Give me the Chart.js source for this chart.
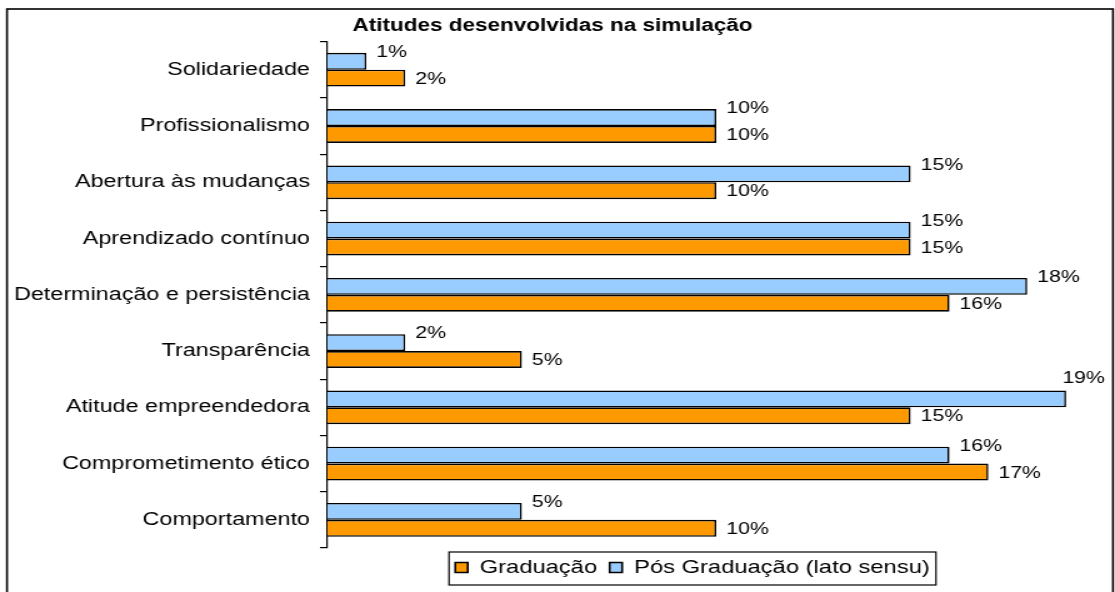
<!DOCTYPE html>
<html>
<head>
<meta charset="utf-8">
<script src="https://cdn.jsdelivr.net/npm/chart.js@4"></script>
<style>
    body { margin: 0; background: #fff; overflow: hidden; }
    /* the reference picture is stretched sideways, so the chart is too */
    #wrap { width: 892px; height: 592px; transform: scaleX(1.25); transform-origin: 0 0; }
</style>
</head>
<body>
<div id="wrap"><canvas id="chart" width="892" height="592"></canvas></div>
<script>
const titulo = 'Atitudes desenvolvidas na simulação'
const categorias = [
    'Solidariedade',
    'Profissionalismo',
    'Abertura às mudanças',
    'Aprendizado contínuo',
    'Determinação e persistência',
    'Transparência',
    'Atitude empreendedora',
    'Comprometimento ético',
    'Comportamento'
]
const posGraduacao = [1, 10, 15, 15, 18, 2, 19, 16, 5]
const graduacao = [2, 10, 10, 15, 16, 5, 15, 17, 10]

const fonte = '"Liberation Sans", Arial, sans-serif'

const moldura = {
    id: 'moldura',
    beforeDraw(chart) {
        const ctx = chart.ctx
        ctx.save()
        ctx.fillStyle = '#fff'
        ctx.fillRect(0, 0, chart.width, chart.height)
        ctx.strokeStyle = '#000'
        ctx.lineWidth = 1.6
        ctx.strokeRect(5.6, 9, 884.8, 600)
        ctx.restore()
    }
}

// move the legend a bit to the right and put a box round it
const legendaBox = {
    id: 'legendaBox',
    afterLayout(chart) {
        const lg = chart.legend
        const d = 554 - (lg.left + lg.right) / 2
        lg.left += d
        lg.right += d
    },
    afterDraw(chart) {
        const boxes = chart.legend.legendHitBoxes
        if (!boxes || !boxes.length) return
        const ctx = chart.ctx
        const l = Math.min(...boxes.map(b => b.left)) - 5
        const r = Math.max(...boxes.map(b => b.left + b.width)) + 5
        const t = boxes[0].top - 6
        const h = boxes[0].height + 14
        ctx.save()
        ctx.strokeStyle = '#000'
        ctx.lineWidth = 1.2
        ctx.strokeRect(l, t, r - l, h)
        ctx.restore()
    }
}

const rotulos = {
    id: 'rotulos',
    afterDatasetsDraw(chart) {
        const ctx = chart.ctx
        ctx.save()
        ctx.font = '17px ' + fonte
        ctx.fillStyle = '#000'
        ctx.textBaseline = 'middle'
        ctx.textAlign = 'left'
        chart.data.datasets.forEach((ds, i) => {
            chart.getDatasetMeta(i).data.forEach((bar, j) => {
                const txt = ds.data[j] + '%'
                const w = ctx.measureText(txt).width
                let x = bar.x + 8
                let y = bar.y + (i === 0 ? -9 : 1)
                if (x + w > chart.chartArea.right) {
                    x = bar.x - 3
                    y = bar.y - 21
                }
                ctx.fillText(txt, x, y)
            })
        })
        ctx.restore()
    }
}

new Chart(document.getElementById('chart'), {
    type: 'bar',
    data: {
        labels: categorias,
        datasets: [
            {
                label: 'Pós Graduação (lato sensu)',
                data: posGraduacao,
                backgroundColor: '#99CCFF',
                borderColor: '#000',
                borderWidth: 1.6
            },
            {
                label: 'Graduação',
                data: graduacao,
                backgroundColor: '#FF9900',
                borderColor: '#000',
                borderWidth: 1.6
            }
        ]
    },
    options: {
        indexAxis: 'y',
        responsive: false,
        animation: false,
        categoryPercentage: 0.6,
        barPercentage: 1.0,
        layout: { padding: { left: 0, right: 8, top: 0, bottom: 5 } },
        scales: {
            x: { display: false, min: 0, max: 20 },
            y: {
                afterFit: s => { s.width = 262 },
                grid: { drawOnChartArea: false, tickLength: 6, color: '#000', lineWidth: 1.2 },
                border: { color: '#000', width: 1.2 },
                ticks: { color: '#000', padding: 8, font: { family: fonte, size: 18.7 } }
            }
        },
        plugins: {
            title: {
                display: true,
                text: titulo,
                color: '#000',
                font: { family: fonte, size: 18, weight: 'bold' },
                padding: { top: 15, bottom: 5 }
            },
            legend: {
                position: 'bottom',
                reverse: true,
                labels: {
                    color: '#000',
                    boxWidth: 10,
                    boxHeight: 10,
                    padding: 10,
                    font: { family: fonte, size: 19 }
                }
            },
            tooltip: { enabled: false }
        }
    },
    plugins: [moldura, legendaBox, rotulos]
})
</script>
</body>
</html>
